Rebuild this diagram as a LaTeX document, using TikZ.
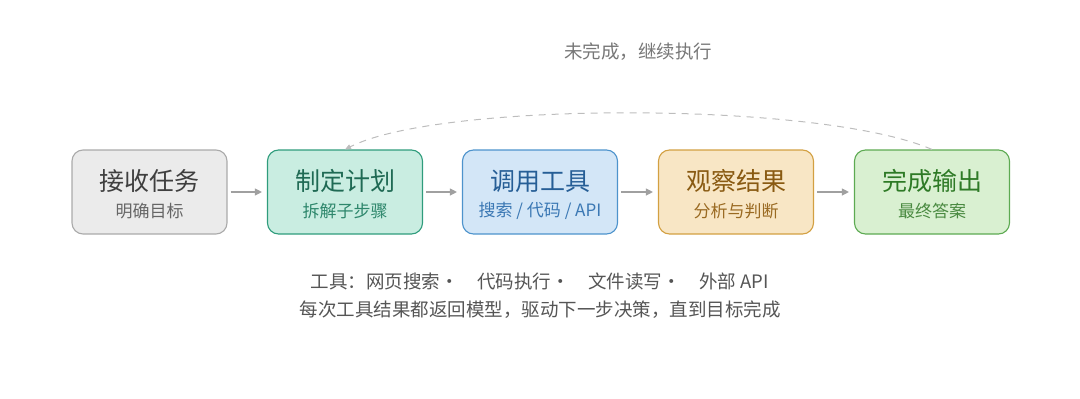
\documentclass[tikz,border=0pt]{standalone}
\usepackage{fontspec}
\usepackage{xcolor}
\usepackage{tikz}
\usetikzlibrary{arrows.meta,positioning}
\setmainfont{Noto Sans CJK SC}

\definecolor{grayfill}{HTML}{EBEBEB}
\definecolor{graydraw}{HTML}{AAAAAA}
\definecolor{graytitle}{HTML}{3F3F3F}
\definecolor{graysub}{HTML}{666666}
\definecolor{mintfill}{HTML}{C9EDE1}
\definecolor{mintdraw}{HTML}{2F9C7C}
\definecolor{minttitle}{HTML}{1F6A54}
\definecolor{mintsub}{HTML}{2E876C}
\definecolor{bluefill}{HTML}{D3E6F7}
\definecolor{bluedraw}{HTML}{4D93CC}
\definecolor{bluetitle}{HTML}{265E96}
\definecolor{bluesub}{HTML}{3B78B4}
\definecolor{sandfill}{HTML}{F8E6C5}
\definecolor{sanddraw}{HTML}{D3A042}
\definecolor{sandtitle}{HTML}{895A12}
\definecolor{sandsub}{HTML}{9A6A22}
\definecolor{leaffill}{HTML}{D9F0D1}
\definecolor{leafdraw}{HTML}{5DAA52}
\definecolor{leaftitle}{HTML}{2E7A26}
\definecolor{leafsub}{HTML}{4A8A41}
\definecolor{arrowgray}{HTML}{A0A0A0}
\definecolor{loopgray}{HTML}{BDBDBD}
\definecolor{notegray}{HTML}{555555}
\definecolor{retrygray}{HTML}{777777}

\tikzset{
  stagebox/.style={draw=#1draw, fill=#1fill, line width=1.1pt, rounded corners=11pt,
    minimum width=155pt, minimum height=84pt, inner sep=0pt},
  stagetitle/.style={font=\fontsize{25}{27}\selectfont},
  stagesub/.style={font=\fontsize{17}{19}\selectfont},
  flow/.style={-{Triangle[length=7pt,width=7pt]}, arrowgray, line width=1.1pt},
  note/.style={font=\fontsize{18.5}{20}\selectfont, text=notegray, inner sep=0pt}
}

\begin{document}
\begin{tikzpicture}[x=1pt, y=-1pt]
  \useasboundingbox (0,0) rectangle (1080,399);
  \def\rowy{192}

  % Stages
  \node[stagebox=gray] (recv) at (149.5,\rowy) {};
  \node[stagetitle, text=graytitle] at (149.5,181) {接收任务};
  \node[stagesub, text=graysub] at (149.5,211) {明确目标};

  \node[stagebox=mint] (plan) at (345,\rowy) {};
  \node[stagetitle, text=minttitle] at (345,181) {制定计划};
  \node[stagesub, text=mintsub] at (345,211) {拆解子步骤};

  \node[stagebox=blue] (call) at (540,\rowy) {};
  \node[stagetitle, text=bluetitle] at (540,181) {调用工具};
  \node[stagesub, text=bluesub] at (540,211) {搜索 / 代码 / API};

  \node[stagebox=sand] (look) at (736,\rowy) {};
  \node[stagetitle, text=sandtitle] at (736,181) {观察结果};
  \node[stagesub, text=sandsub] at (736,211) {分析与判断};

  \node[stagebox=leaf] (done) at (932,\rowy) {};
  \node[stagetitle, text=leaftitle] at (932,181) {完成输出};
  \node[stagesub, text=leafsub] at (932,211) {最终答案};

  % Forward arrows
  \draw[flow] ([xshift=3pt]recv.east) -- ([xshift=-5pt]plan.west);
  \draw[flow] ([xshift=3pt]plan.east) -- ([xshift=-5pt]call.west);
  \draw[flow] ([xshift=3pt]call.east) -- ([xshift=-5pt]look.west);
  \draw[flow] ([xshift=3pt]look.east) -- ([xshift=-5pt]done.west);

  % Loop back
  \draw[-{Triangle[length=6pt,width=5pt]}, loopgray, line width=1pt, dash pattern=on 7pt off 6pt]
    (done.north) .. controls (820,101) and (440,101) .. (plan.north);
  \node[note, text=retrygray] (retry) at (638,52) {未完成，继续执行};

  % Notes
  \node[note] (tools) at (540,281) {工具：网页搜索·\quad 代码执行·\quad 文件读写·\quad 外部 API};
  \node[note, below=11pt of tools] (loop) {每次工具结果都返回模型，驱动下一步决策，直到目标完成};
\end{tikzpicture}
\end{document}
